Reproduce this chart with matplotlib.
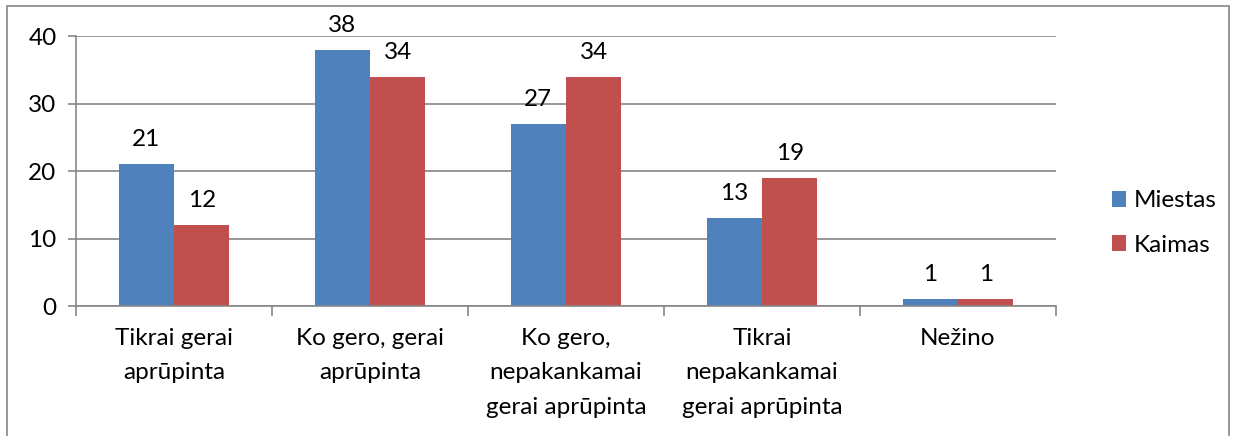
import numpy as np
import matplotlib.pyplot as plt

kategorijos = ["Tikrai gerai\naprūpinta", "Ko gero, gerai\naprūpinta",
               "Ko gero,\nnepakankamai\ngerai aprūpinta",
               "Tikrai\nnepakankamai\ngerai aprūpinta", "Nežino"]
miestas = [21, 38, 27, 13, 1]
kaimas = [12, 34, 34, 19, 1]
serijos = ["Miestas", "Kaimas"]
spalvos = ["#4f81bd", "#c0504d"]

plt.rcParams['font.family'] = ['Lato', 'DejaVu Sans']
pilka = "#868686"
fs = 17.5

fig = plt.figure(figsize=(12.36, 4.36), dpi=100)
# rėmelis aplink diagramą
fig.patches.append(plt.Rectangle((7 / 1236, -0.1), 1222 / 1236, 1.1 - 6 / 436,
                                 transform=fig.transFigure, fill=False,
                                 edgecolor=pilka, linewidth=1.2))
ax = fig.add_axes([76 / 1236, 1 - 306 / 436, 980 / 1236, 270 / 436])

x = np.arange(len(kategorijos))
w = 0.283
b1 = ax.bar(x - w / 2, miestas, w, color=spalvos[0], label=serijos[0])
b2 = ax.bar(x + w / 2, kaimas, w, color=spalvos[1], label=serijos[1])
for bars in (b1, b2):
    ax.bar_label(bars, padding=10, fontsize=fs)

ax.set_xlim(-0.5, len(kategorijos) - 0.5)
ax.set_ylim(0, 40)
ax.set_yticks([0, 10, 20, 30, 40])
ax.yaxis.grid(True, color=pilka, linewidth=1.2)
ax.set_axisbelow(True)
for s in ["top", "right"]:
    ax.spines[s].set_visible(False)
for s in ["left", "bottom"]:
    ax.spines[s].set_color(pilka)
    ax.spines[s].set_linewidth(1.2)

ax.set_xticks(np.arange(-0.5, len(kategorijos)), minor=False)
ax.set_xticklabels([])
ax.set_xticks(x, minor=True)
ax.set_xticklabels(kategorijos, minor=True, fontsize=fs, linespacing=1.78, va="top")
ax.tick_params(axis="x", which="minor", length=0, pad=16)
ax.tick_params(axis="x", which="major", length=7, color=pilka, width=1.2)
ax.tick_params(axis="y", length=6, color=pilka, width=1.2, labelsize=fs, pad=8)

ax.legend(loc="center left", bbox_to_anchor=(1090 / 1236, 1 - 223 / 436),
          bbox_transform=fig.transFigure, frameon=False,
          fontsize=fs, handlelength=0.6, handleheight=0.6, handletextpad=0.3,
          labelspacing=0.95)

fig.savefig("out.png", dpi=100)
